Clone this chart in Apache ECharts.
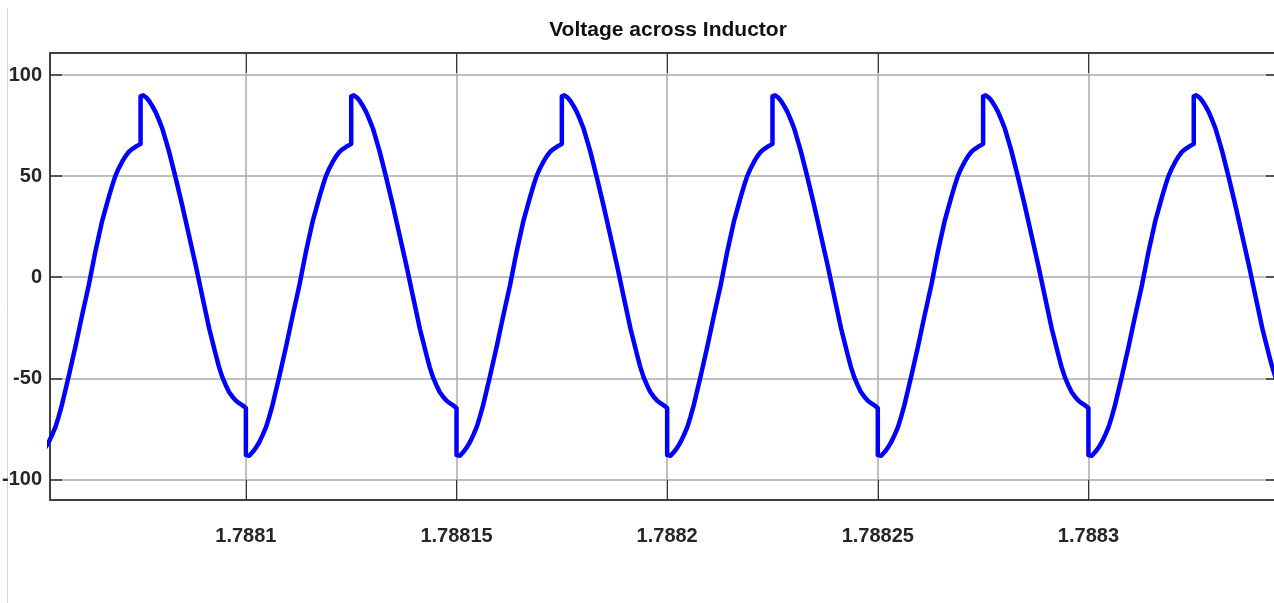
<!DOCTYPE html>
<html>
<head>
<meta charset="utf-8">
<title>Voltage across Inductor</title>
<script src="https://cdn.jsdelivr.net/npm/echarts@6/dist/echarts.min.js"></script>
<style>
  html, body { margin: 0; padding: 0; background: #fff; }
  #main { width: 1274px; height: 603px; }
</style>
</head>
<body>
<div id="main"></div>
<script>
// time in microseconds after t = 1.788 s
var timeUs = [
  50, 50, 50.4, 50.8, 51.6, 52.4, 53.2, 54.0, 54.8, 55.5, 56.3, 57.9, 59.5, 61.1, 62.7, 64.3, 65.9, 67.5, 68.3, 69.0, 69.8, 70.6, 71.4, 72.2, 73.0, 73.8, 74.4,
  75.0, 75.0, 75.6, 76.3, 77.0, 77.8, 78.6, 79.4, 80.2, 81.7, 83.3, 84.9, 86.5, 88.1, 89.7, 91.3, 92.9, 93.6, 94.4, 95.2, 96.0, 96.8, 97.6, 98.4, 99.2, 99.6,
  100, 100, 100.4, 100.8, 101.6, 102.4, 103.2, 104.0, 104.8, 105.5, 106.3, 107.9, 109.5, 111.1, 112.7, 114.3, 115.9, 117.5, 118.3, 119.0, 119.8, 120.6, 121.4, 122.2, 123.0, 123.8, 124.4,
  125.0, 125.0, 125.6, 126.3, 127.0, 127.8, 128.6, 129.4, 130.2, 131.7, 133.3, 134.9, 136.5, 138.1, 139.7, 141.3, 142.9, 143.6, 144.4, 145.2, 146.0, 146.8, 147.6, 148.4, 149.2, 149.6,
  150, 150, 150.4, 150.8, 151.6, 152.4, 153.2, 154.0, 154.8, 155.5, 156.3, 157.9, 159.5, 161.1, 162.7, 164.3, 165.9, 167.5, 168.3, 169.0, 169.8, 170.6, 171.4, 172.2, 173.0, 173.8, 174.4,
  175.0, 175.0, 175.6, 176.3, 177.0, 177.8, 178.6, 179.4, 180.2, 181.7, 183.3, 184.9, 186.5, 188.1, 189.7, 191.3, 192.9, 193.6, 194.4, 195.2, 196.0, 196.8, 197.6, 198.4, 199.2, 199.6,
  200, 200, 200.4, 200.8, 201.6, 202.4, 203.2, 204.0, 204.8, 205.5, 206.3, 207.9, 209.5, 211.1, 212.7, 214.3, 215.9, 217.5, 218.3, 219.0, 219.8, 220.6, 221.4, 222.2, 223.0, 223.8, 224.4,
  225.0, 225.0, 225.6, 226.3, 227.0, 227.8, 228.6, 229.4, 230.2, 231.7, 233.3, 234.9, 236.5, 238.1, 239.7, 241.3, 242.9, 243.6, 244.4, 245.2, 246.0, 246.8, 247.6, 248.4, 249.2, 249.6,
  250, 250, 250.4, 250.8, 251.6, 252.4, 253.2, 254.0, 254.8, 255.5, 256.3, 257.9, 259.5, 261.1, 262.7, 264.3, 265.9, 267.5, 268.3, 269.0, 269.8, 270.6, 271.4, 272.2, 273.0, 273.8, 274.4,
  275.0, 275.0, 275.6, 276.3, 277.0, 277.8, 278.6, 279.4, 280.2, 281.7, 283.3, 284.9, 286.5, 288.1, 289.7, 291.3, 292.9, 293.6, 294.4, 295.2, 296.0, 296.8, 297.6, 298.4, 299.2, 299.6,
  300, 300, 300.4, 300.8, 301.6, 302.4, 303.2, 304.0, 304.8, 305.5, 306.3, 307.9, 309.5, 311.1, 312.7, 314.3, 315.9, 317.5, 318.3, 319.0, 319.8, 320.6, 321.4, 322.2, 323.0, 323.8, 324.4,
  325.0, 325.0, 325.6, 326.3, 327.0, 327.8, 328.6, 329.4, 330.2, 331.7, 333.3, 334.9, 336.5, 338.1, 339.7, 341.3, 342.9, 343.6, 344.4, 345.2, 346.0, 346.8, 347.6, 348.4, 349.2, 349.6,
  350
];
var voltage = [
  -64.7, -88, -88.5, -88.3, -86.5, -84.3, -81.5, -78, -74, -69.3, -63.4, -49.4, -34.6, -19, -4, 13, 28, 40, 45.5, 50, 53.8, 57, 59.8, 62, 63.4, 64.5, 65.2,
  66, 89.5, 90, 89, 87.3, 84.6, 81.5, 77.6, 73.3, 62.6, 49.4, 35.4, 20.6, 5.8, -9.9, -25.5, -38.7, -44.2, -49.4, -53.3, -56.8, -59.1, -61, -62.3, -63.4, -64.1,
  -64.7, -88, -88.5, -88.3, -86.5, -84.3, -81.5, -78, -74, -69.3, -63.4, -49.4, -34.6, -19, -4, 13, 28, 40, 45.5, 50, 53.8, 57, 59.8, 62, 63.4, 64.5, 65.2,
  66, 89.5, 90, 89, 87.3, 84.6, 81.5, 77.6, 73.3, 62.6, 49.4, 35.4, 20.6, 5.8, -9.9, -25.5, -38.7, -44.2, -49.4, -53.3, -56.8, -59.1, -61, -62.3, -63.4, -64.1,
  -64.7, -88, -88.5, -88.3, -86.5, -84.3, -81.5, -78, -74, -69.3, -63.4, -49.4, -34.6, -19, -4, 13, 28, 40, 45.5, 50, 53.8, 57, 59.8, 62, 63.4, 64.5, 65.2,
  66, 89.5, 90, 89, 87.3, 84.6, 81.5, 77.6, 73.3, 62.6, 49.4, 35.4, 20.6, 5.8, -9.9, -25.5, -38.7, -44.2, -49.4, -53.3, -56.8, -59.1, -61, -62.3, -63.4, -64.1,
  -64.7, -88, -88.5, -88.3, -86.5, -84.3, -81.5, -78, -74, -69.3, -63.4, -49.4, -34.6, -19, -4, 13, 28, 40, 45.5, 50, 53.8, 57, 59.8, 62, 63.4, 64.5, 65.2,
  66, 89.5, 90, 89, 87.3, 84.6, 81.5, 77.6, 73.3, 62.6, 49.4, 35.4, 20.6, 5.8, -9.9, -25.5, -38.7, -44.2, -49.4, -53.3, -56.8, -59.1, -61, -62.3, -63.4, -64.1,
  -64.7, -88, -88.5, -88.3, -86.5, -84.3, -81.5, -78, -74, -69.3, -63.4, -49.4, -34.6, -19, -4, 13, 28, 40, 45.5, 50, 53.8, 57, 59.8, 62, 63.4, 64.5, 65.2,
  66, 89.5, 90, 89, 87.3, 84.6, 81.5, 77.6, 73.3, 62.6, 49.4, 35.4, 20.6, 5.8, -9.9, -25.5, -38.7, -44.2, -49.4, -53.3, -56.8, -59.1, -61, -62.3, -63.4, -64.1,
  -64.7, -88, -88.5, -88.3, -86.5, -84.3, -81.5, -78, -74, -69.3, -63.4, -49.4, -34.6, -19, -4, 13, 28, 40, 45.5, 50, 53.8, 57, 59.8, 62, 63.4, 64.5, 65.2,
  66, 89.5, 90, 89, 87.3, 84.6, 81.5, 77.6, 73.3, 62.6, 49.4, 35.4, 20.6, 5.8, -9.9, -25.5, -38.7, -44.2, -49.4, -53.3, -56.8, -59.1, -61, -62.3, -63.4, -64.1,
  -64.7
];
var xTicks = [1.7881, 1.78815, 1.7882, 1.78825, 1.7883];
var yTicks = [-100, -50, 0, 50, 100];

var points = timeUs.map(function (us, i) {
  return [1.788 + us / 1e6, voltage[i]];
});

var labelFont = "'Liberation Sans', Arial, sans-serif";

var myChart = echarts.init(document.getElementById('main'));
myChart.setOption({
  animation: false,
  backgroundColor: '#fff',
  title: {
    text: 'Voltage across Inductor',
    left: 663,
    textAlign: 'center',
    top: 15,
    textStyle: { fontFamily: labelFont, fontSize: 21, fontWeight: 'bold', color: '#111' }
  },
  grid: { left: 50, right: -4, top: 53, bottom: 103, containLabel: false, outerBoundsMode: 'none' },
  xAxis: [
    {
      type: 'value',
      min: 1.7880535,
      max: 1.788345,
      axisLine: { show: true, onZero: false, lineStyle: { color: '#404040', width: 2 } },
      axisTick: { show: true, inside: true, length: 20, customValues: xTicks, lineStyle: { color: '#333', width: 1 } },
      axisLabel: {
        customValues: xTicks,
        margin: 26,
        fontFamily: labelFont, fontSize: 20, fontWeight: 'bold', color: '#262626',
        formatter: function (v) { return String(+v.toFixed(5)); }
      },
      splitLine: { show: true, lineStyle: { color: '#aaaaaa', width: 1.5 } }
    },
    {
      type: 'value',
      position: 'top',
      min: 1.7880535,
      max: 1.788345,
      axisLine: { show: true, onZero: false, lineStyle: { color: '#404040', width: 2 } },
      axisTick: { show: true, inside: true, length: 20, customValues: xTicks, lineStyle: { color: '#333', width: 1 } },
      axisLabel: { show: false },
      splitLine: { show: false }
    }
  ],
  yAxis: [
    {
      type: 'value',
      min: -110.2,
      max: 110.9,
      axisLine: { show: true, onZero: false, lineStyle: { color: '#404040', width: 2 } },
      axisTick: { show: true, inside: true, length: 12, customValues: yTicks, lineStyle: { color: '#333', width: 1.5 } },
      axisLabel: {
        customValues: yTicks,
        margin: 8,
        fontFamily: labelFont, fontSize: 20, fontWeight: 'bold', color: '#262626'
      },
      splitLine: { show: true, lineStyle: { color: '#aaaaaa', width: 1.5 } }
    },
    {
      type: 'value',
      position: 'right',
      min: -110.2,
      max: 110.9,
      axisLine: { show: true, onZero: false, lineStyle: { color: '#404040', width: 2 } },
      axisTick: { show: true, inside: true, length: 12, customValues: yTicks, lineStyle: { color: '#333', width: 1.5 } },
      axisLabel: { show: false },
      splitLine: { show: false }
    }
  ],
  graphic: [
    {
      type: 'line',
      shape: { x1: 7.5, y1: 8, x2: 7.5, y2: 603 },
      style: { stroke: '#d4d4d4', lineWidth: 1 },
      silent: true
    }
  ],
  series: [
    {
      name: 'Voltage across Inductor',
      type: 'line',
      data: points,
      showSymbol: false,
      clip: true,
      lineStyle: { color: '#0000ff', width: 4.5, join: 'round', cap: 'round' },
      itemStyle: { color: '#0000ff' }
    }
  ]
});
</script>
</body>
</html>
